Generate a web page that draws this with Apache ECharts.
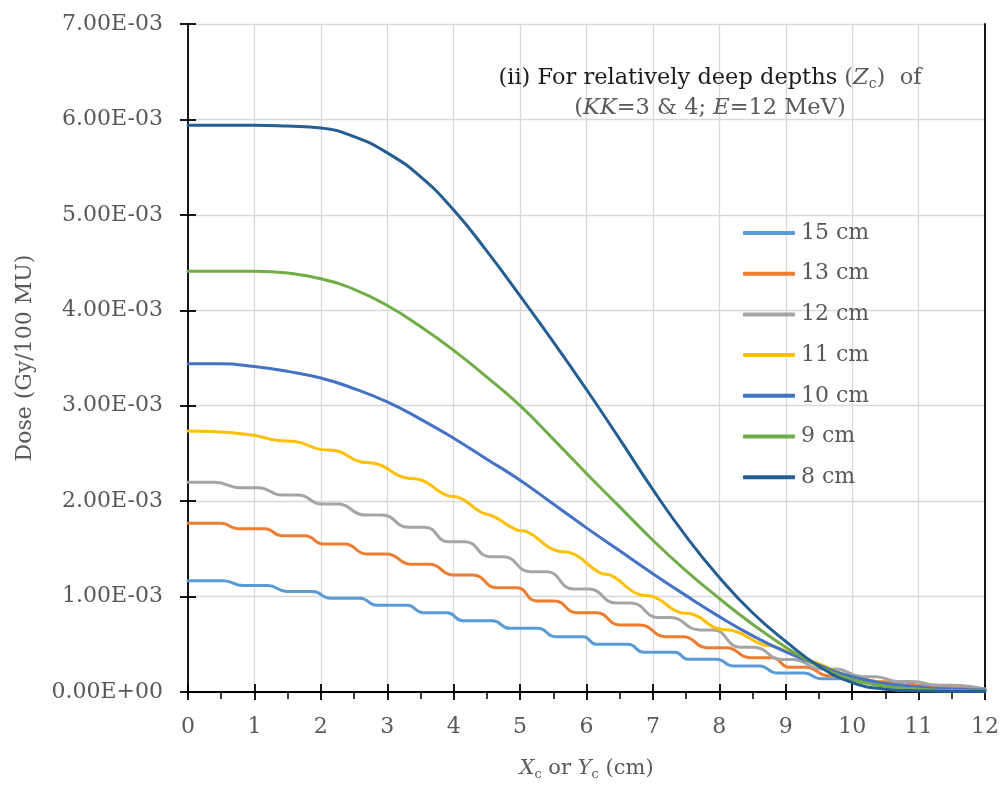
<!DOCTYPE html>
<html>
<head>
<meta charset="utf-8">
<script src="https://cdn.jsdelivr.net/npm/echarts@6/dist/echarts.min.js"></script>
<style>
html,body{margin:0;padding:0;background:#fff;}
#chart{width:1003px;height:786px;}
</style>
</head>
<body>
<div id="chart"></div>
<script>
// Dose values are in units of 1E-03 Gy/100 MU
const DOSE_UNIT = 1e-3;
const seriesNames = ['15 cm','13 cm','12 cm','11 cm','10 cm','9 cm','8 cm'];
const seriesColors = ['#5B9BD5','#ED7D31','#A5A5A5','#FFC000','#4472C4','#70AD47','#255E91'];

const d15 = [[0,1.167],[0.53,1.167],[0.83,1.115],[1.2,1.115],[1.49,1.052],[1.88,1.052],[2.14,0.982],[2.59,0.982],[2.85,0.909],[3.3,0.909],[3.54,0.831],[3.9,0.831],[4.14,0.747],[4.58,0.747],[4.85,0.667],[5.27,0.667],[5.53,0.58],[5.95,0.58],[6.15,0.50],[6.63,0.50],[6.86,0.416],[7.33,0.416],[7.53,0.343],[7.96,0.343],[8.21,0.272],[8.61,0.272],[8.86,0.20],[9.28,0.20],[9.52,0.14],[9.95,0.14],[10.2,0.10],[10.6,0.10],[10.85,0.07],[11.25,0.07],[11.5,0.045],[11.9,0.04],[12,0.035]];
const d13 = [[0,1.768],[0.5,1.768],[0.75,1.711],[1.16,1.711],[1.41,1.638],[1.76,1.638],[2.04,1.551],[2.36,1.551],[2.69,1.446],[2.99,1.446],[3.36,1.338],[3.64,1.338],[3.99,1.226],[4.29,1.226],[4.65,1.093],[4.95,1.093],[5.25,0.954],[5.52,0.954],[5.85,0.831],[6.15,0.831],[6.5,0.702],[6.8,0.702],[7.2,0.58],[7.46,0.58],[7.81,0.465],[8.11,0.465],[8.46,0.36],[8.8,0.36],[9.05,0.259],[9.3,0.259],[9.65,0.17],[9.95,0.17],[10.4,0.108],[10.75,0.108],[11.05,0.063],[11.35,0.063],[11.7,0.03],[12,0.025]];
const d12 = [[0,2.197],[0.4,2.197],[0.8,2.141],[1.06,2.141],[1.41,2.064],[1.66,2.064],[2.01,1.97],[2.26,1.97],[2.66,1.855],[2.92,1.855],[3.32,1.726],[3.57,1.726],[3.92,1.575],[4.17,1.575],[4.55,1.418],[4.75,1.418],[5.15,1.261],[5.4,1.261],[5.8,1.08],[6.03,1.08],[6.45,0.932],[6.67,0.932],[7.08,0.78],[7.26,0.78],[7.71,0.65],[7.91,0.65],[8.31,0.47],[8.51,0.47],[8.95,0.34],[9.1,0.34],[9.55,0.24],[9.75,0.24],[10.15,0.16],[10.35,0.16],[10.7,0.11],[10.9,0.11],[11.3,0.07],[11.5,0.07],[12,0.03]];
const d11 = [[0,2.735],[0.35,2.73],[0.96,2.693],[1.36,2.635],[1.61,2.625],[2.01,2.54],[2.21,2.53],[2.61,2.41],[2.82,2.395],[3.27,2.245],[3.47,2.23],[3.92,2.055],[4.07,2.04],[4.4,1.889],[4.6,1.84],[4.95,1.70],[5.1,1.68],[5.55,1.48],[5.75,1.46],[6.2,1.25],[6.38,1.22],[6.8,1.02],[7.0,1.0],[7.4,0.835],[7.6,0.815],[8.0,0.66],[8.2,0.645],[8.66,0.495],[8.81,0.48],[9.3,0.34],[9.45,0.31],[9.97,0.16],[10.4,0.10],[10.82,0.056],[11.3,0.03],[12,0.015]];
const d10 = [[0,3.44],[0.5,3.44],[1,3.41],[1.5,3.36],[2,3.29],[2.5,3.18],[3,3.04],[3.5,2.86],[4,2.66],[4.5,2.44],[5,2.22],[5.5,1.97],[6,1.72],[6.5,1.48],[7,1.24],[7.5,1.01],[8,0.79],[8.5,0.59],[9,0.42],[9.5,0.28],[10,0.16],[10.5,0.09],[11,0.05],[11.5,0.03],[12,0.02]];
const d9 = [[0,4.41],[0.5,4.41],[1,4.41],[1.5,4.39],[2,4.33],[2.5,4.22],[3,4.05],[3.5,3.83],[4,3.58],[4.5,3.30],[5,3.0],[5.5,2.65],[6,2.29],[6.5,1.94],[7,1.59],[7.5,1.27],[8,0.98],[8.5,0.71],[9,0.47],[9.5,0.27],[10,0.13],[10.5,0.06],[11,0.03],[11.5,0.015],[12,0.01]];
const d8 = [[0,5.94],[0.5,5.94],[1,5.94],[1.5,5.93],[2,5.91],[2.5,5.82],[3,5.65],[3.5,5.40],[4,5.05],[4.5,4.62],[5,4.15],[5.5,3.67],[6,3.17],[6.5,2.65],[7,2.12],[7.5,1.63],[8,1.20],[8.5,0.83],[9,0.53],[9.5,0.27],[10,0.10],[10.5,0.03],[11,0.01],[11.5,0.005],[12,0.005]];
const seriesData = [d15,d13,d12,d11,d10,d9,d8];

const FONT = '"DejaVu Serif", "Liberation Serif", serif';
const GRAY = '#595959';

function sci(v){
  if (v === 0) return '0.00E+00';
  const s = v.toExponential(2);
  const m = s.split('e');
  const exp = parseInt(m[1],10);
  const sign = exp < 0 ? '-' : '+';
  const e = Math.abs(exp);
  return m[0] + 'E' + sign + (e < 10 ? '0' + e : '' + e);
}

const chart = echarts.init(document.getElementById('chart'), null, {renderer:'canvas'});
const TS = 22.5;
const option = {
  animation: false,
  backgroundColor: '#fff',
  grid: {left:188, right:18, top:24, bottom:94, containLabel:false, outerBoundsMode:'none'},
  title: {
    left: 705, top: 58, textAlign: 'center',
    text: '{b|(ii) For relatively deep depths }{g|(}{i|Z}{s|c}{g|)  of}\n{g|(}{i|KK}{g|=3 & 4; }{i|E}{g|=12 MeV)}',
    textStyle: {
      fontFamily: FONT, fontSize: TS, lineHeight: 30, fontWeight: 'normal',
      rich: {
        b: {fontFamily: FONT, fontSize: TS, color: '#1a1a1a', lineHeight: 30, fontWeight: 'normal'},
        g: {fontFamily: FONT, fontSize: TS, color: GRAY, lineHeight: 30, fontWeight: 'normal'},
        i: {fontFamily: FONT, fontSize: TS, color: GRAY, fontStyle: 'italic', lineHeight: 30, fontWeight: 'normal'},
        s: {fontFamily: FONT, fontSize: 14, color: GRAY, lineHeight: 30, padding:[12,0,0,0], fontWeight: 'normal'}
      }
    }
  },
  legend: {
    orient: 'vertical', left: 738, top: 217,
    itemWidth: 52, itemHeight: 4, itemGap: 18.7,
    icon: 'roundRect',
    data: seriesNames,
    textStyle: {fontFamily: FONT, fontSize: 22, color: GRAY, lineHeight: 22, padding:[0,0,0,1]}
  },
  xAxis: [{
    type: 'value', min: 0, max: 12, interval: 1,
    position: 'bottom',
    name: '{i|X}{s|c}{n| or }{i|Y}{s|c}{n| (cm)}',
    nameLocation: 'middle', nameGap: 64,
    nameTextStyle: {
      rich: {
        i: {fontFamily: FONT, fontSize: 21, color: GRAY, fontStyle: 'italic'},
        n: {fontFamily: FONT, fontSize: 21, color: GRAY},
        s: {fontFamily: FONT, fontSize: 13, color: GRAY, padding:[12,0,0,0]}
      }
    },
    axisLine: {show: true, onZero: false, lineStyle: {color: '#000', width: 1.8}},
    axisTick: {show: true, inside: false, length: 8, lineStyle: {color: '#000', width: 1.8}},
    minorTick: {show: true, splitNumber: 2, length: 7, lineStyle: {color: '#000', width: 1.5}},
    axisLabel: {fontFamily: FONT, fontSize: 22, color: GRAY, margin: 24},
    splitLine: {show: true, lineStyle: {color: '#D9D9D9', width: 1.3}}
  },{
    type: 'value', min: 0, max: 12, interval: 1,
    position: 'bottom',
    axisLine: {show: false},
    axisTick: {show: true, inside: true, length: 8, lineStyle: {color: '#000', width: 1.8}},
    axisLabel: {show: false},
    splitLine: {show: false}
  }],
  yAxis: [{
    type: 'value', min: 0, max: 7 * DOSE_UNIT, interval: DOSE_UNIT,
    position: 'left',
    name: 'Dose (Gy/100 MU)',
    nameLocation: 'middle', nameGap: 152, nameRotate: 90,
    nameTextStyle: {fontFamily: FONT, fontSize: 22, color: GRAY},
    axisLine: {show: true, onZero: false, lineStyle: {color: '#000', width: 1.8}},
    axisTick: {show: true, inside: false, length: 8, lineStyle: {color: '#000', width: 1.8}},
    axisLabel: {fontFamily: FONT, fontSize: 22, color: GRAY, margin: 25, formatter: sci},
    splitLine: {show: true, lineStyle: {color: '#D9D9D9', width: 1.3}}
  },{
    type: 'value', min: 0, max: 7 * DOSE_UNIT, interval: DOSE_UNIT,
    position: 'left', offset: 0,
    axisLine: {show: false},
    axisTick: {show: true, inside: true, length: 8, lineStyle: {color: '#000', width: 1.8}},
    axisLabel: {show: false},
    splitLine: {show: false}
  },{
    type: 'value', min: 0, max: 7 * DOSE_UNIT, interval: DOSE_UNIT,
    position: 'right',
    axisLine: {show: true, onZero: false, lineStyle: {color: '#000', width: 1.8}},
    axisTick: {show: false},
    axisLabel: {show: false},
    splitLine: {show: false}
  }],
  series: seriesNames.map((name, k) => ({
    name: name,
    type: 'line',
    data: seriesData[k].map(p => [p[0], p[1] * DOSE_UNIT]),
    smooth: 0.5,
    showSymbol: false,
    symbol: 'none',
    color: seriesColors[k],
    lineStyle: {width: 3, color: seriesColors[k], cap: 'round', join: 'round'},
    z: 10 + k
  }))
};
chart.setOption(option);
</script>
</body>
</html>
